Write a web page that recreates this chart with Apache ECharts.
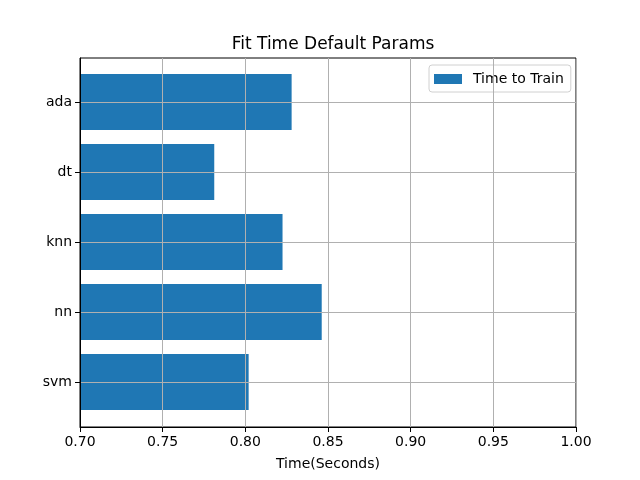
<!DOCTYPE html>
<html lang="en">
<head>
    <meta charset="UTF-8">
    <title>Fit Time Default Params</title>
    <script src="https://cdn.jsdelivr.net/npm/echarts@6/dist/echarts.min.js"></script>
</head>
<body style="margin:0">
    <div id="main" style="width:640px; height:480px;"></div>
    <script>
        // models and their fit time (seconds)
        var models = ['ada', 'dt', 'knn', 'nn', 'svm'];
        var fitTimes = [0.8280, 0.7812, 0.8225, 0.8462, 0.8020];
        var xTicks = [0.70, 0.75, 0.80, 0.85, 0.90, 0.95, 1.00];

        var font = 'DejaVu Sans';
        var gridColor = '#b0b0b0';

        var myChart = echarts.init(document.getElementById('main'));
        var option = {
            animation: false,
            textStyle: { fontFamily: font },
            title: {
                text: 'Fit Time Default Params',
                left: 328,
                top: 31,
                textAlign: 'center',
                textStyle: { fontSize: 17, fontWeight: 'normal', color: '#000', fontFamily: font }
            },
            legend: {
                data: ['Time to Train'],
                left: 429,
                top: 65,
                padding: [7, 7, 6, 5],
                borderColor: '#d0d0d0',
                borderWidth: 1,
                borderRadius: 3,
                itemWidth: 28,
                itemHeight: 10,
                icon: 'rect',
                textStyle: { fontSize: 14, color: '#000', fontFamily: font, padding: [0, 0, 0, 6] }
            },
            grid: [
                // frame grid
                { left: 80, right: 64, top: 58, bottom: 53, show: true, borderColor: '#000', borderWidth: 1 },
                // bars grid, category centres from first to last bar
                { left: 80, right: 64, top: 102, bottom: 98 }
            ],
            xAxis: [
                {
                    gridIndex: 0,
                    type: 'value',
                    min: xTicks[0],
                    max: xTicks[xTicks.length - 1],
                    interval: 0.05,
                    z: 5,
                    name: 'Time(Seconds)',
                    nameLocation: 'middle',
                    nameGap: 30,
                    nameTextStyle: { fontSize: 14, color: '#000', fontFamily: font },
                    axisLine: { show: true, lineStyle: { color: '#000' } },
                    axisTick: { show: true, length: 5, lineStyle: { color: '#000' } },
                    axisLabel: {
                        fontSize: 14, color: '#000', margin: 8, fontFamily: font,
                        formatter: function (v) { return v.toFixed(2); }
                    },
                    splitLine: { show: true, lineStyle: { color: gridColor, width: 1 } }
                },
                {
                    gridIndex: 1, type: 'value', show: false,
                    min: xTicks[0], max: xTicks[xTicks.length - 1], startValue: xTicks[0]
                }
            ],
            yAxis: [
                {
                    gridIndex: 0, type: 'value', min: 0, max: 1, z: 5,
                    axisLine: { show: true, lineStyle: { color: '#000' } },
                    axisTick: { show: false }, axisLabel: { show: false }, splitLine: { show: false }
                },
                {
                    gridIndex: 1,
                    type: 'category',
                    data: models,
                    inverse: true,
                    boundaryGap: false,
                    z: 4,
                    axisLine: { show: false },
                    axisTick: { show: true, length: 5, lineStyle: { color: '#000' } },
                    axisLabel: { fontSize: 14, color: '#000', margin: 8, fontFamily: font },
                    splitLine: { show: true, lineStyle: { color: gridColor, width: 1 } }
                }
            ],
            series: [
                {
                    name: 'Time to Train',
                    type: 'bar',
                    xAxisIndex: 1,
                    yAxisIndex: 1,
                    data: fitTimes,
                    barWidth: 56,
                    clip: false,
                    itemStyle: { color: '#1f77b4' }
                }
            ]
        };
        myChart.setOption(option);
    </script>
</body>
</html>
